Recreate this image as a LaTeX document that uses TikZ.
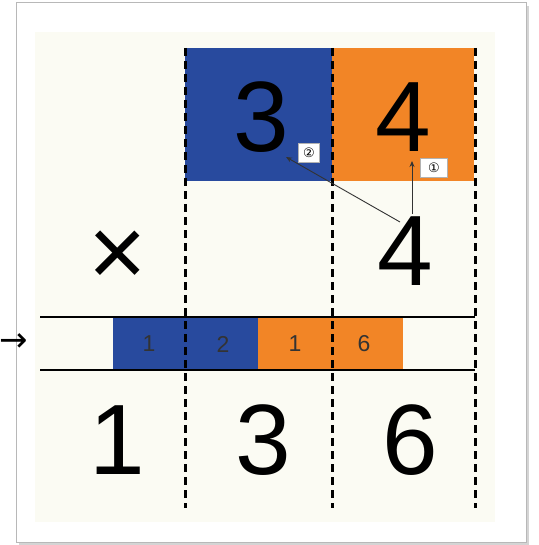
\documentclass[tikz,border=0pt]{standalone}
\usepackage{fontspec}
\setmainfont{Liberation Sans}
\newfontfamily\djv{DejaVu Sans}
\usetikzlibrary{arrows.meta}
\definecolor{cblue}{HTML}{284A9E}
\definecolor{corange}{HTML}{F28526}
\definecolor{cream}{HTML}{FBFBF3}
\definecolor{frameg}{HTML}{B8B8B8}
\definecolor{bandtxt}{HTML}{333333}
\begin{document}
\begin{tikzpicture}[x=1pt,y=-1pt,
  big/.style={inner sep=0pt,font=\fontsize{100}{100}\selectfont},
  small/.style={inner sep=0pt,text=bandtxt,font=\fontsize{23}{23}\selectfont},
  tag/.style={draw=gray!60,fill=white,inner sep=0pt,minimum height=19pt,font=\djv\fontsize{13}{13}\selectfont},
  dashline/.style={line width=3pt,dash pattern=on 8pt off 5pt},
  bandline/.style={line width=2pt},
  pointer/.style={line width=0.9pt,draw=black!80,-{Stealth[length=6pt,width=5pt]}}]
\useasboundingbox (0,0) rectangle (538,545);
% photo frame
\fill[white] (0,0) rectangle (538,545);
\fill[frameg!60] (19,6) rectangle (529,545);
\fill[white,draw=frameg,line width=1pt] (16,3) rectangle (526,542);
\fill[cream] (35,32) rectangle (495,522);
% coloured boxes
\fill[cblue] (185,48) rectangle (332,181);
\fill[corange] (332,48) rectangle (474,181);
% band
\fill[cblue] (113,317) rectangle (258,370);
\fill[corange] (258,317) rectangle (403,370);
\draw[bandline] (40,317) -- (475,317);
\draw[bandline] (40,370) -- (475,370);
% dashed columns
\draw[dashline] (185,48) -- (185,508);
\draw[dashline] (332,48) -- (332,508);
\draw[dashline] (475,48) -- (475,508);
% digits
\node[big] (t3) at (261,117) {3};
\node[big] (t4) at (403,117) {4};
\node[big] (times) at (118,259) {×};
\node[big] (m4) at (405,251) {4};
\node[big] (r1) at (117,440) {1};
\node[big] (r3) at (263,440) {3};
\node[big] (r6) at (410,440) {6};
\node[small] (s1) at (149,344) {1};
\node[small] (s2) at (223,344) {2};
\node[small] (s3) at (295,344) {1};
\node[small] (s4) at (364,344) {6};
% tags
\node[tag,minimum width=21pt] (lab2) at (309,153) {②};
\node[tag,minimum width=27pt] (lab1) at (434,168) {①};
% pointers
\coordinate (p1s) at (412,214);
\coordinate (p1e) at (412,161);
\coordinate (p2s) at (400,222);
\coordinate (p2e) at (286,157);
\draw[pointer] (p1s) -- (p1e);
\draw[pointer] (p2s) -- (p2e);
% side arrow
\node[inner sep=0pt,font=\djv\fontsize{34}{34}\selectfont] (side) at (14,343) {→};
\end{tikzpicture}
\end{document}
